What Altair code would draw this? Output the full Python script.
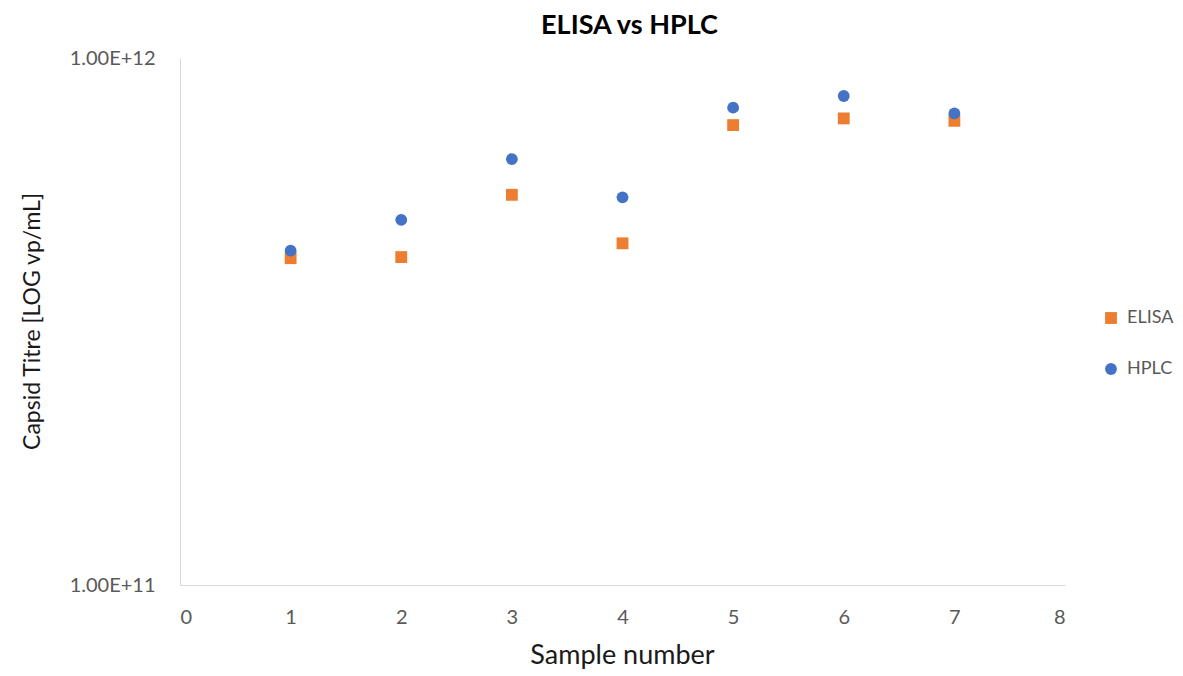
import altair as alt
import pandas as pd

samples = [1, 2, 3, 4, 5, 6, 7]
elisa = [4.17e11, 4.19e11, 5.50e11, 4.45e11, 7.46e11, 7.68e11, 7.60e11]
hplc = [4.31e11, 4.93e11, 6.43e11, 5.44e11, 8.05e11, 8.47e11, 7.85e11]
series_names = ["ELISA", "HPLC"]
series_colors = ["#ED7D31", "#4472C4"]
series_shapes = ["square", "circle"]
x_ticks = [0, 1, 2, 3, 4, 5, 6, 7, 8]
y_ticks = [1e11, 1e12]

rows = []
for s, v in zip(samples, elisa):
    rows.append({"Sample": s, "Titre": v, "Method": "ELISA"})
for s, v in zip(samples, hplc):
    rows.append({"Sample": s, "Titre": v, "Method": "HPLC"})
df = pd.DataFrame(rows)

FONT = "Lato"
LABEL_GRAY = "#595959"
AXIS_GRAY = "#d9d9d9"

chart = alt.Chart(df).mark_point(filled=True, opacity=1, size=140).encode(
    x=alt.X(
        "Sample:Q",
        scale=alt.Scale(domain=[0, 8], nice=False),
        axis=alt.Axis(
            values=x_ticks,
            title="Sample number",
            grid=False,
            ticks=False,
            domainColor=AXIS_GRAY,
            labelColor=LABEL_GRAY,
            labelFont=FONT,
            labelFontSize=20,
            labelPadding=22,
            titleFont=FONT,
            titleFontSize=27,
            titleFontWeight="normal",
            titleColor="#1a1a1a",
            titleX=442,
            titleY=70,
            titleBaseline="middle",
            titleAlign="center",
        ),
    ),
    y=alt.Y(
        "Titre:Q",
        scale=alt.Scale(type="log", domain=[1e11, 1e12], nice=False),
        axis=alt.Axis(
            values=y_ticks,
            labelExpr="replace(format(datum.value, '.2e'), 'e', 'E')",
            title="Capsid Titre [LOG vp/mL]",
            grid=False,
            ticks=False,
            domainColor=AXIS_GRAY,
            labelColor=LABEL_GRAY,
            labelFont=FONT,
            labelFontSize=20,
            labelPadding=25,
            titleFont=FONT,
            titleFontSize=23,
            titleFontWeight="normal",
            titleColor="#1a1a1a",
            titleX=-148,
            titleY=263,
            titleAngle=-90,
            titleBaseline="middle",
            titleAlign="center",
        ),
    ),
    color=alt.Color(
        "Method:N",
        scale=alt.Scale(domain=series_names, range=series_colors),
        legend=alt.Legend(
            title=None,
            orient="none",
            legendX=922,
            legendY=251,
            padding=0,
            symbolSize=140,
            symbolStrokeWidth=0,
            labelFont=FONT,
            labelFontSize=18,
            labelColor=LABEL_GRAY,
            labelOffset=7,
            rowPadding=33,
        ),
    ),
    shape=alt.Shape(
        "Method:N",
        scale=alt.Scale(domain=series_names, range=series_shapes),
    ),
    order=alt.Order("Method:N"),
).properties(
    width=885,
    height=527,
    title=alt.TitleParams(
        "ELISA vs HPLC",
        font=FONT,
        fontSize=27,
        fontWeight="bold",
        color="#000000",
        anchor="middle",
        offset=8,
        dx=7,
    ),
    padding={"left": 172, "top": 50, "right": 110, "bottom": 85},
    autosize="none",
    background="white",
).configure_view(
    stroke=None
)

chart.save("out.html", embed_options={"renderer": "svg", "actions": False})
